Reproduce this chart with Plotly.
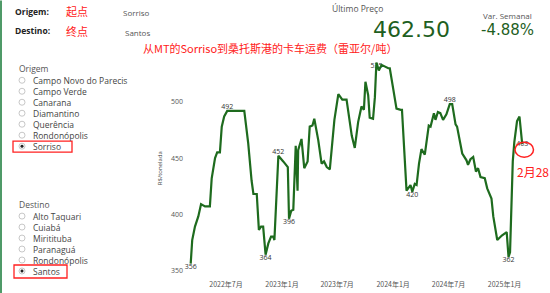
import plotly.graph_objects as go

# ---------------- data ----------------
dates = ["2022-03-07","2022-03-12","2022-03-21","2022-04-01","2022-04-10","2022-04-23","2022-05-09","2022-05-15",
         "2022-05-26","2022-06-02","2022-06-11","2022-06-17","2022-06-25","2022-07-05","2022-08-30","2022-09-12",
         "2022-09-23","2022-09-29","2022-10-10","2022-10-17","2022-10-24","2022-10-31","2022-11-08","2022-11-17",
         "2022-11-26","2022-12-03","2022-12-07","2022-12-20","2023-01-05","2023-01-16","2023-01-20","2023-01-24",
         "2023-01-31","2023-02-07","2023-02-13","2023-02-15","2023-02-21","2023-02-23","2023-03-06","2023-03-15",
         "2023-03-26","2023-04-02","2023-04-11","2023-04-17","2023-04-30","2023-05-11","2023-05-19","2023-05-28",
         "2023-06-07","2023-06-22","2023-07-05","2023-07-18","2023-08-01","2023-08-18","2023-08-28","2023-09-08",
         "2023-09-19","2023-09-27","2023-10-02","2023-10-11","2023-10-16","2023-10-27","2023-11-02","2023-11-07",
         "2023-11-15","2023-11-24","2023-12-16","2023-12-21","2024-01-01","2024-01-12","2024-01-26","2024-01-30",
         "2024-02-14","2024-02-27","2024-03-04","2024-03-12","2024-03-18","2024-03-26","2024-04-03","2024-04-14",
         "2024-04-27","2024-05-03","2024-05-14","2024-05-19","2024-05-27","2024-06-04","2024-06-13","2024-06-24",
         "2024-07-05","2024-07-13","2024-07-24","2024-07-29","2024-08-15","2024-08-29","2024-09-03","2024-09-11",
         "2024-09-20","2024-09-29","2024-10-06","2024-10-14","2024-10-28","2024-11-05","2024-11-19","2024-11-25",
         "2024-12-08","2024-12-23","2025-01-08","2025-01-14","2025-01-19","2025-01-28","2025-02-02","2025-02-11",
         "2025-02-19","2025-02-28"]
values = [356,377,389,398,409,407,407,432,
          450,455,455,478,487,492,492,463,
          430,418,418,386,389,389,364,374,
          380,380,377,452,447,443,442,396,
          403,404,445,461,421,457,467,441,
          447,478,479,485,466,445,447,442,
          440,484,507,502,502,470,459,482,
          496,493,518,506,486,485,504,535,
          528,533,530,530,512,494,493,493,
          421,426,420,427,426,445,458,453,
          479,478,490,484,491,490,484,489,
          498,498,480,478,454,448,444,449,
          451,438,441,433,432,423,414,398,
          377,381,384,362,366,447,464,483,
          487,462.5]

label_dates = ["2022-03-07","2022-07-05","2022-11-08","2022-12-20","2023-01-24","2023-11-07",
               "2024-03-04","2024-07-05","2025-01-14","2025-02-28"]
label_pos = ["bottom center","top center","bottom center","top center","bottom center","bottom center",
             "bottom center","top center","bottom center","middle center"]

tick_vals = ["2022-07-01","2023-01-01","2023-07-01","2024-01-01","2024-07-01","2025-01-01"]
tick_text = ["2022年7月","2023年1月","2023年7月","2024年1月","2024年7月","2025年1月"]
y_ticks = [350, 400, 450, 500]

origem_items = ["Campo Novo do Parecis","Campo Verde","Canarana","Diamantino","Querência","Rondonópolis","Sorriso"]
destino_items = ["Alto Taquari","Cuiabá","Miritituba","Paranaguá","Rondonópolis","Santos"]
selected_origem = "Sorriso"
selected_destino = "Santos"
last_price = "462.50"
var_semanal = "-4.88%"

# ---------------- layout geometry ----------------
W, H = 550, 293
L, R, T, B = 184, 535, 56.7, 279.0

def P(px, py):
    return (px - L) / (R - L), (B - py) / (B - T)

lookup = dict(zip(dates, values))
label_vals = [lookup[d] for d in label_dates]
label_text = [str(int(v + 0.5)) for v in label_vals]

GREEN = "#1f5f1f"
LINE = "#1e6b1e"
RED = "#ff2020"

fig = go.Figure()
fig.add_trace(go.Scatter(x=label_dates, y=label_vals, mode="text", text=label_text,
                         textposition=label_pos, textfont=dict(size=7, color="#333333", family="Open Sans"),
                         hoverinfo="skip", showlegend=False))
fig.add_trace(go.Scatter(x=dates, y=values, mode="lines", line=dict(color=LINE, width=2.2),
                         showlegend=False))

ann = []
shapes = []

def text(px, py, s, size, color="#444", anchor="left", family="Open Sans", bold=False, yanchor="middle"):
    x, y = P(px, py)
    if bold:
        s = "<b>" + s + "</b>"
    ann.append(dict(x=x, y=y, xref="paper", yref="paper", text=s, showarrow=False,
                    xanchor=anchor, yanchor=yanchor, font=dict(size=size, color=color, family=family)))

# header
text(13, 11, "Origem:", 8.5, "#222", bold=True)
text(64, 11, "起点", 11, RED, family="Noto Sans CJK SC")
text(121, 12, selected_origem, 8, "#555")
text(13, 30, "Destino:", 8.5, "#222", bold=True)
text(64, 31, "终点", 11, RED, family="Noto Sans CJK SC")
text(123, 32, selected_destino, 8, "#555")
text(270, 48, "从MT的Sorriso到桑托斯港的卡车运费（雷亚尔/吨）", 11, RED, anchor="center", family="Noto Sans CJK SC")
text(357, 8, "Último Preço", 8.5, "#555", anchor="center")
text(411, 29, last_price, 22, GREEN, anchor="center", family="DejaVu Sans")
text(507, 15, "Var. Semanal", 8, "#555", anchor="center")
text(507, 30, var_semanal, 15, GREEN, anchor="center", family="DejaVu Sans")

# slicers
def slicer(title, title_y, items, selected, box):
    text(17, title_y, title, 8.5, "#555")
    for i, it in enumerate(items):
        yy = title_y + 12 + i * 11
        cx0, cy0 = P(19, yy - 3)
        cx1, cy1 = P(25, yy + 3)
        shapes.append(dict(type="circle", xref="paper", yref="paper", x0=cx0, y0=cy0, x1=cx1, y1=cy1,
                           line=dict(color="#c8c8c8", width=1), fillcolor="white"))
        if it == selected:
            dx0, dy0 = P(20.5, yy - 1.5)
            dx1, dy1 = P(23.5, yy + 1.5)
            shapes.append(dict(type="circle", xref="paper", yref="paper", x0=dx0, y0=dy0, x1=dx1, y1=dy1,
                               line=dict(color="#222", width=0), fillcolor="#222"))
        text(31, yy, it, 8.5, "#444")
    bx0, by0 = P(box[0], box[1])
    bx1, by1 = P(box[2], box[3])
    shapes.append(dict(type="rect", xref="paper", yref="paper", x0=bx0, y0=by0, x1=bx1, y1=by1,
                       line=dict(color=RED, width=1.3)))

slicer("Origem", 68, origem_items, selected_origem, (13, 141, 72, 152))
slicer("Destino", 204, destino_items, selected_destino, (14, 265, 67, 278))

# left green border
gx0, gy0 = P(1, 0)
gx1, gy1 = P(1, H)
shapes.append(dict(type="line", xref="paper", yref="paper", x0=gx0, y0=gy0, x1=gx1, y1=gy1,
                   line=dict(color="#4f9a68", width=2)))

# red ellipse around last label + note
ex0, ey0 = P(515, 157)
ex1, ey1 = P(533.5, 142)
shapes.append(dict(type="circle", xref="paper", yref="paper", x0=ex0, y0=ey0, x1=ex1, y1=ey1,
                   line=dict(color=RED, width=1.5)))
text(515, 171, "2月28", 12, RED, family="Noto Sans CJK SC")

# y axis title
text(160, 168, "R$/tonelada", 6, "#444", anchor="center")
ann[-1]["textangle"] = -90

fig.update_layout(
    width=W, height=H,
    margin=dict(l=L, r=W - R, t=T, b=H - B, autoexpand=False),
    paper_bgcolor="white", plot_bgcolor="white",
    annotations=ann, shapes=shapes,
    xaxis=dict(range=["2022-02-13", "2025-04-11"], tickvals=tick_vals, ticktext=tick_text,
               showgrid=False, zeroline=False, showline=False, ticks="", automargin=False,
               tickfont=dict(size=7, color="#555", family="Noto Sans CJK SC")),
    yaxis=dict(range=[342.3, 540], tickvals=y_ticks, showgrid=False, zeroline=False, showline=False,
               ticks="", automargin=False, tickfont=dict(size=7, color="#555", family="Open Sans")),
)

fig.write_html("out.html")
